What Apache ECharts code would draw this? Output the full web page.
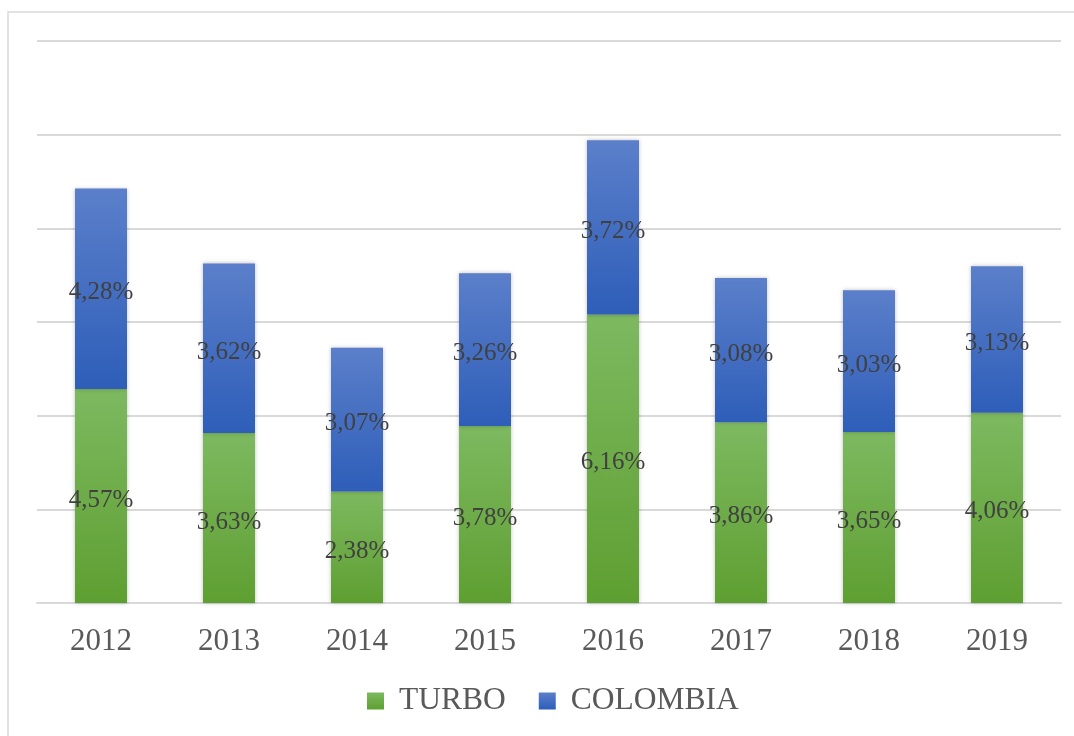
<!DOCTYPE html>
<html><head><meta charset="utf-8">
<script src="https://cdn.jsdelivr.net/npm/echarts@6/dist/echarts.min.js"></script>
<style>html,body{margin:0;padding:0;background:#fff}#c{width:1074px;height:736px}</style>
</head><body><div id="c"></div>
<script>
const categories = ['2012','2013','2014','2015','2016','2017','2018','2019'];
const turbo = [4.57, 3.63, 2.38, 3.78, 6.16, 3.86, 3.65, 4.06];
const colombia = [4.28, 3.62, 3.07, 3.26, 3.72, 3.08, 3.03, 3.13];

const font = '"Liberation Serif","Times New Roman",serif';
const chart = echarts.init(document.getElementById('c'));
const lbl = {
  show: true, position: 'inside', color: '#404040', fontFamily: font, fontSize: 25, offset: [0, 4],
  formatter: p => p.value.toFixed(2).replace('.', ',') + '%'
};
const grad = (a, b) => new echarts.graphic.LinearGradient(0, 0, 0, 1, [{offset: 0, color: a}, {offset: 1, color: b}]);
chart.setOption({
  animation: false,
  graphic: [{type: 'rect', shape: {x: 8, y: 12, width: 1080, height: 740}, style: {fill: 'none', stroke: '#d9d9d9', lineWidth: 1.5}, z: -1}],
  grid: {left: 37, right: 13, top: 41, bottom: 133},
  legend: {
    bottom: 14, left: 362, itemWidth: 17, itemHeight: 17, itemGap: 33,
    textStyle: {fontFamily: font, fontSize: 31.5, color: '#595959', padding: [0, 0, 0, 10]},
    data: [{name: 'TURBO', icon: 'rect'}, {name: 'COLOMBIA', icon: 'rect'}]
  },
  xAxis: {
    type: 'category', data: categories,
    axisLine: {lineStyle: {color: '#d9d9d9', width: 2}}, axisTick: {show: false},
    axisLabel: {fontFamily: font, fontSize: 31, color: '#595959', margin: 23}
  },
  yAxis: {
    type: 'value', min: 0, max: 12, interval: 2,
    axisLabel: {show: false}, axisLine: {show: false}, axisTick: {show: false},
    splitLine: {lineStyle: {color: '#d9d9d9', width: 2}}
  },
  series: [
    {name: 'TURBO', type: 'bar', stack: 't', data: turbo, barWidth: 52, label: lbl,
     itemStyle: {color: grad('#7db960', '#5e9f31'), shadowBlur: 4, shadowColor: 'rgba(0,0,0,0.25)'}},
    {name: 'COLOMBIA', type: 'bar', stack: 't', data: colombia, barWidth: 52, label: lbl,
     itemStyle: {color: grad('#5b7fca', '#2e5eb9'), shadowBlur: 4, shadowColor: 'rgba(0,0,0,0.25)'}}
  ]
});
</script></body></html>
